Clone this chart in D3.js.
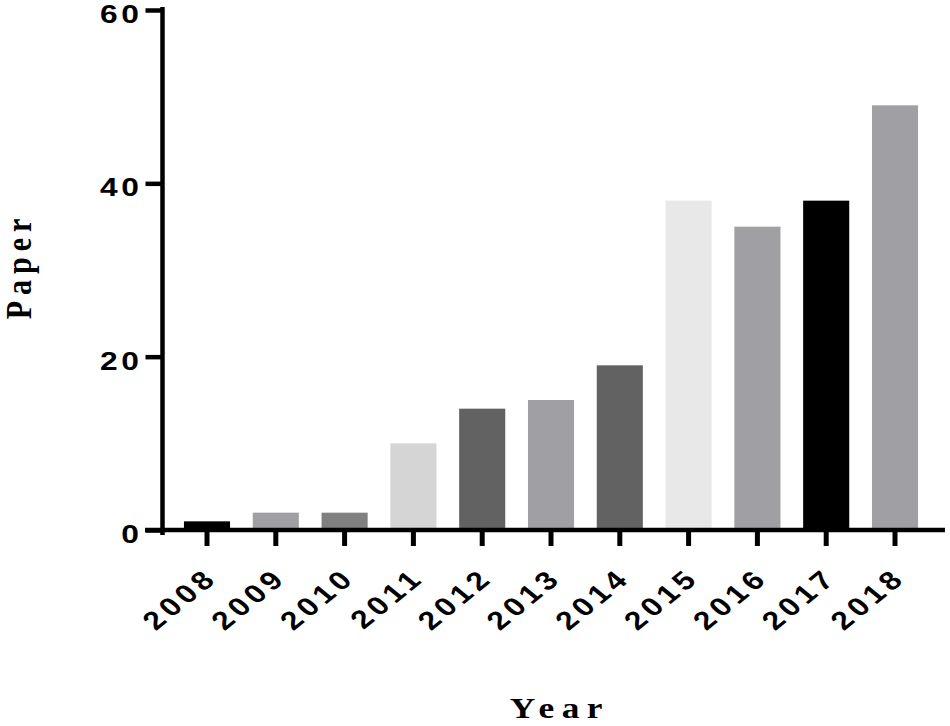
<!DOCTYPE html>
<html>
<head>
<meta charset="utf-8">
<script src="https://cdn.jsdelivr.net/npm/d3@7"></script>
<style>
  html, body { margin: 0; padding: 0; background: #fff; }
  svg { display: block; }
</style>
</head>
<body>
<svg id="chart" width="950" height="726"></svg>
<script>
const years = ["2008","2009","2010","2011","2012","2013","2014","2015","2016","2017","2018"];
const papers = [1, 2, 2, 10, 14, 15, 19, 38, 35, 38, 49];
const barColors = ["#000000","#a0a0a4","#808080","#d5d5d5","#626262","#a0a0a4","#626262","#e8e8e8","#a0a0a4","#000000","#a0a0a4"];
const yTicks = [0, 20, 40, 60];
const xTitle = "Year";
const yTitle = "Paper";

const svg = d3.select("#chart");
const SX = 1.22; // horizontal text stretch seen in the reference
const sansFont = "'Liberation Sans', Arial, sans-serif";
const serifFont = "'Liberation Serif', 'Times New Roman', serif";

const y = d3.scaleLinear().domain([0, 60]).range([530, 10]);
const x = d3.scaleBand().domain(years).range([172.6, 929.4]).paddingInner(0.33).paddingOuter(0.165);

// bars
svg.append("g").selectAll("rect").data(years).join("rect")
  .attr("x", d => x(d))
  .attr("width", x.bandwidth())
  .attr("y", (d, i) => y(papers[i]))
  .attr("height", (d, i) => y(0) - y(papers[i]))
  .attr("fill", (d, i) => barColors[i]);

// y axis (ticks via d3 axis)
const yAxis = svg.append("g").attr("transform", "translate(162.5,0)")
  .call(d3.axisLeft(y).tickValues(yTicks).tickSize(17).tickFormat(""));
yAxis.select(".domain").remove();
yAxis.selectAll(".tick line").attr("stroke", "#000").attr("stroke-width", 4.5);
svg.append("line").attr("x1", 162.5).attr("x2", 162.5)
  .attr("y1", y(60) - 3).attr("y2", y(0) + 5)
  .attr("stroke", "#000").attr("stroke-width", 4.5);

// y tick labels
svg.append("g").selectAll("g").data(yTicks).join("g")
  .attr("transform", d => `translate(139,${y(d) + 3.5}) scale(${SX},1)`)
  .append("text")
  .attr("text-anchor", "end")
  .attr("dy", "0.36em")
  .attr("dx", 3)
  .style("font-family", sansFont)
  .style("font-weight", "bold")
  .style("font-size", "26px")
  .style("letter-spacing", "3px")
  .attr("fill", "#000")
  .text(d => d);

// x axis
const xAxis = svg.append("g").attr("transform", `translate(0,${y(0)})`)
  .call(d3.axisBottom(x).tickSize(16).tickFormat(""));
xAxis.select(".domain").remove();
xAxis.selectAll(".tick line").attr("stroke", "#000").attr("stroke-width", 5);
svg.append("line").attr("x1", 145).attr("x2", 945)
  .attr("y1", y(0)).attr("y2", y(0))
  .attr("stroke", "#000").attr("stroke-width", 4.5);

// x tick labels
svg.append("g").selectAll("g").data(years).join("g")
  .attr("transform", d => `translate(${x(d) + x.bandwidth() / 2 + 9},582) scale(${SX},1) rotate(-45)`)
  .append("text")
  .attr("text-anchor", "end")
  .attr("dx", 4)
  .style("font-family", sansFont)
  .style("font-weight", "bold")
  .style("font-size", "26px")
  .style("letter-spacing", "4px")
  .attr("fill", "#000")
  .text(d => d);

// axis titles
svg.append("g").attr("transform", `translate(556,718) scale(${SX},1)`)
  .append("text")
  .attr("text-anchor", "middle")
  .attr("dx", 3)
  .style("font-family", serifFont)
  .style("font-weight", "bold")
  .style("font-size", "29px")
  .style("letter-spacing", "6px")
  .attr("fill", "#000")
  .text(xTitle);

svg.append("g").attr("transform", `translate(31,269) scale(${SX},1) rotate(-90)`)
  .append("text")
  .attr("text-anchor", "middle")
  .attr("dx", 3)
  .style("font-family", serifFont)
  .style("font-weight", "bold")
  .style("font-size", "30px")
  .style("letter-spacing", "6px")
  .attr("fill", "#000")
  .text(yTitle);
</script>
</body>
</html>
